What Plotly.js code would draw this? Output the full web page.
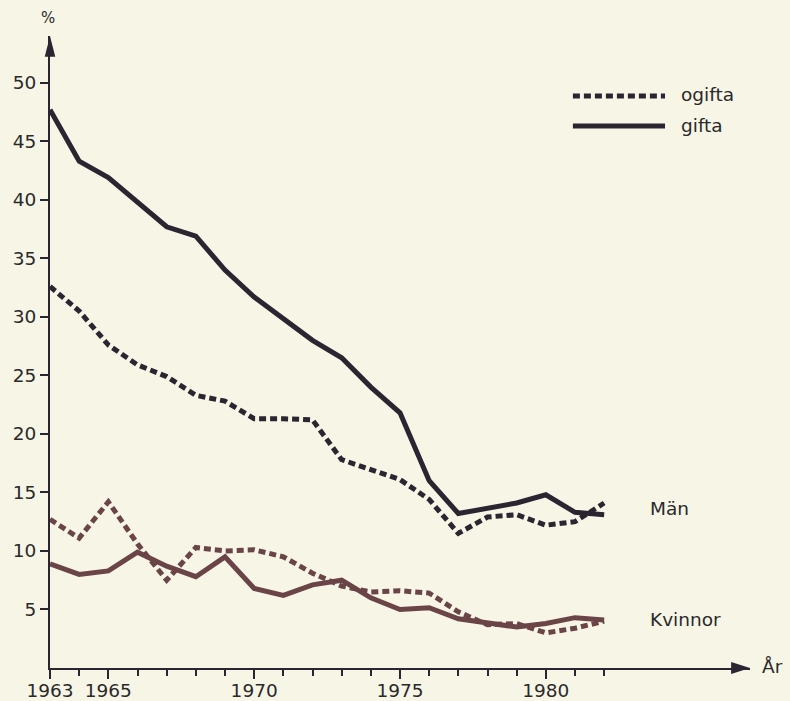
<!DOCTYPE html>
<html>
<head>
<meta charset="utf-8">
<script src="https://cdn.plot.ly/plotly-3.0.1.min.js"></script>
<style>html,body{margin:0;padding:0;background:#f6f5e6;}#chart{width:790px;height:701px;}</style>
</head>
<body>
<div id="chart"></div>
<script>
const years = [1963,1964,1965,1966,1967,1968,1969,1970,1971,1972,1973,1974,1975,1976,1977,1978,1979,1980,1981,1982];
const manGifta   = [47.7,43.3,41.9,39.8,37.7,36.9,34.0,31.7,29.9,28.0,26.5,24.0,21.8,16.0,13.2,13.7,14.1,14.8,13.3,13.1];
const manOgifta  = [32.6,30.5,27.6,25.9,24.9,23.3,22.8,21.3,21.3,21.2,17.8,16.9,16.1,14.4,11.5,12.9,13.1,12.2,12.5,14.1];
const kvGifta    = [8.9,8.0,8.3,9.9,8.7,7.8,9.5,6.8,6.2,7.1,7.5,6.0,5.0,5.15,4.2,3.8,3.5,3.8,4.3,4.1];
const kvOgifta   = [12.7,11.1,14.2,10.6,7.5,10.3,10.0,10.1,9.5,8.1,7.0,6.5,6.6,6.4,4.8,3.7,3.8,3.0,3.4,4.0];
const yTicks = [5,10,15,20,25,30,35,40,45,50];
const xMajor = [1963,1965,1970,1975,1980];
const xMinor = [1964,1966,1967,1968,1969,1971,1972,1973,1974,1976,1977,1978,1979,1981,1982];

const menColor = '#2a2530';
const womenColor = '#6a4446';
const dotDash = '7px,4px';

const traces = [
  {x: years, y: manOgifta, mode: 'lines', line: {color: menColor, width: 5, dash: dotDash}, name: 'ogifta', showlegend: false},
  {x: years, y: manGifta, mode: 'lines', line: {color: menColor, width: 5}, name: 'gifta', showlegend: false},
  {x: years, y: kvOgifta, mode: 'lines', line: {color: womenColor, width: 5, dash: dotDash}, name: 'ogifta', showlegend: false},
  {x: years, y: kvGifta, mode: 'lines', line: {color: womenColor, width: 5}, name: 'gifta', showlegend: false}
];

const font = {family: '"DejaVu Sans", "Liberation Sans", Arial, sans-serif', size: 18.5, color: '#2a2a2a'};
const axColor = '#2a2530';

const layout = {
  width: 790, height: 701,
  margin: {l: 50, r: 40, t: 36, b: 33},
  paper_bgcolor: '#f6f5e6', plot_bgcolor: '#f6f5e6',
  font: font,
  showlegend: false,
  xaxis: {
    range: [1963, 1987], showgrid: false, zeroline: false,
    showline: true, linecolor: axColor, linewidth: 2,
    tickmode: 'array', tickvals: xMajor, ticktext: xMajor.map(String),
    ticks: 'outside', ticklen: 9, tickwidth: 2, tickcolor: axColor,
    ticklabelstandoff: -4,
    tickfont: font,
    minor: {tickmode: 'array', tickvals: xMinor, ticks: 'outside', ticklen: 6, tickwidth: 2, tickcolor: axColor, showgrid: false}
  },
  yaxis: {
    range: [0, 54], showgrid: false, zeroline: false,
    showline: true, linecolor: axColor, linewidth: 2,
    tickmode: 'array', tickvals: yTicks, ticktext: yTicks.map(String),
    ticks: 'outside', ticklen: 8, tickwidth: 2, tickcolor: axColor,
    tickfont: font
  },
  shapes: [
    {type: 'path', xref: 'paper', yref: 'paper', path: 'M -0.0075 0.967 L 0.0075 0.967 L 0 1.0 Z', fillcolor: axColor, line: {width: 0}},
    {type: 'path', xref: 'paper', yref: 'paper', path: 'M 0.973 -0.0095 L 0.973 0.0095 L 1.0 0 Z', fillcolor: axColor, line: {width: 0}},
    {type: 'line', xref: 'paper', yref: 'paper', x0: 0.747, x1: 0.8786, y0: 0.905, y1: 0.905, line: {color: menColor, width: 5, dash: dotDash}},
    {type: 'line', xref: 'paper', yref: 'paper', x0: 0.747, x1: 0.8786, y0: 0.8576, y1: 0.8576, line: {color: menColor, width: 5}}
  ],
  annotations: [
    {text: 'ogifta', xref: 'paper', yref: 'paper', x: 0.8986, y: 0.9082, xanchor: 'left', yanchor: 'middle', showarrow: false, font: font},
    {text: 'gifta', xref: 'paper', yref: 'paper', x: 0.8986, y: 0.859, xanchor: 'left', yanchor: 'middle', showarrow: false, font: font},
    {text: 'Män', xref: 'paper', yref: 'paper', x: 0.854, y: 0.253, xanchor: 'left', yanchor: 'middle', showarrow: false, font: font},
    {text: 'Kvinnor', xref: 'paper', yref: 'paper', x: 0.854, y: 0.0775, xanchor: 'left', yanchor: 'middle', showarrow: false, font: font},
    {text: '%', xref: 'paper', yref: 'paper', x: -0.003, y: 1.0285, xanchor: 'center', yanchor: 'middle', showarrow: false, font: {family: font.family, size: 15, color: '#2a2a2a'}},
    {text: 'År', xref: 'paper', yref: 'paper', x: 1.0143, y: 0.003, xanchor: 'left', yanchor: 'middle', showarrow: false, font: font}
  ]
};

Plotly.newPlot('chart', traces, layout, {displayModeBar: false, staticPlot: true});
</script>
</body>
</html>
